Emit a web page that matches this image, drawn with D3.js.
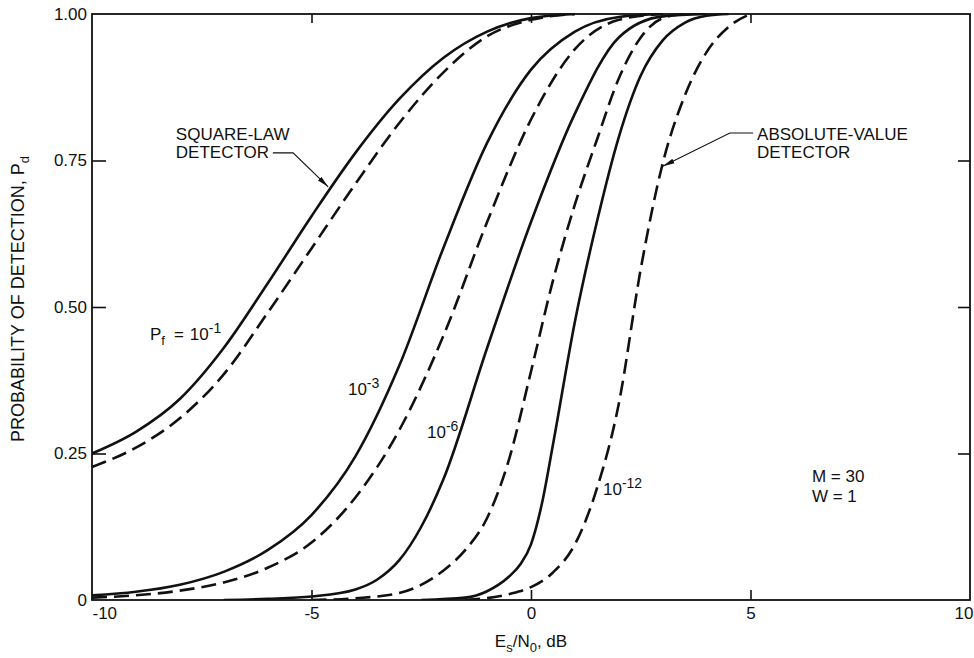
<!DOCTYPE html>
<html>
<head>
<meta charset="utf-8">
<script src="https://cdn.jsdelivr.net/npm/d3@7"></script>
<style>
  body { margin: 0; background: #fff; }
  svg text { font-family: "Liberation Sans", Arial, sans-serif; fill: #111; }
</style>
</head>
<body>
<svg id="chart" width="974" height="658"></svg>
<script>
// Data: E_s/N_0 (dB) vs probability of detection
// square-law (solid) and absolute-value (dashed), for 4 false alarm rates
const pfLabels = ["10^-1", "10^-3", "10^-6", "10^-12"];

const squareLaw_1 = [[-10, 0.25], [-9, 0.287], [-8, 0.343], [-7, 0.43], [-6, 0.54], [-5, 0.655], [-4, 0.763],
  [-3, 0.855], [-2, 0.925], [-1, 0.97], [0, 0.993], [1, 1.0]];
const absValue_1 = [[-10, 0.227], [-9, 0.26], [-8, 0.31], [-7, 0.385], [-6, 0.49], [-5, 0.6], [-4, 0.71],
  [-3, 0.814], [-2, 0.9], [-1, 0.962], [0, 0.99], [1, 1.0]];

const squareLaw_3 = [[-10, 0.008], [-9, 0.014], [-8, 0.026], [-7, 0.048], [-6, 0.085], [-5, 0.145], [-4, 0.245],
  [-3, 0.4], [-2, 0.6], [-1, 0.78], [0, 0.905], [1, 0.97], [2, 0.995], [3, 1.0]];
const absValue_3 = [[-10, 0.004], [-9, 0.008], [-8, 0.016], [-7, 0.03], [-6, 0.055], [-5, 0.098], [-4, 0.175],
  [-3, 0.29], [-2, 0.45], [-1, 0.645], [0, 0.82], [1, 0.94], [2, 0.99], [3, 1.0]];

const squareLaw_6 = [[-7, 0], [-6, 0.002], [-5, 0.006], [-4, 0.018], [-3.5, 0.035], [-3, 0.068], [-2.5, 0.125],
  [-2, 0.205], [-1, 0.43], [0, 0.645], [1, 0.83], [2, 0.96], [3, 0.996], [4, 1.0]];
const absValue_6 = [[-5, 0], [-4, 0.003], [-3, 0.012], [-2, 0.05], [-1.5, 0.085], [-1, 0.14], [-0.5, 0.24],
  [0, 0.39], [0.5, 0.545], [1, 0.675], [1.5, 0.785], [2, 0.89], [2.5, 0.96], [3, 0.993], [3.5, 1.0]];

const squareLaw_12 = [[-2.5, 0], [-1.5, 0.004], [-1, 0.015], [-0.5, 0.04], [-0.25, 0.06], [0, 0.095], [0.25, 0.165],
  [0.5, 0.265], [1, 0.475], [1.5, 0.645], [2, 0.79], [2.5, 0.895], [3, 0.955], [3.5, 0.985], [4, 0.997], [4.5, 1.0]];
const absValue_12 = [[-1.5, 0], [-0.5, 0.01], [0, 0.022], [0.5, 0.047], [1, 0.095], [1.5, 0.19], [2, 0.335],
  [2.5, 0.565], [3, 0.745], [3.5, 0.86], [4, 0.935], [4.5, 0.978], [5, 1.0]];

const xTicks = [-10, -5, 0, 5, 10];
const yTicks = [0, 0.25, 0.5, 0.75, 1.0];

(function () {
  const svg = d3.select("#chart");
  const left = 92, right = 970, top = 14, bottom = 600;

  const x = d3.scaleLinear().domain([-10, 10]).range([left, right]);
  const y = d3.scaleLinear().domain([0, 1]).range([bottom, top]);

  // Frame
  svg.append("rect")
    .attr("x", left).attr("y", top)
    .attr("width", right - left).attr("height", bottom - top)
    .attr("fill", "none").attr("stroke", "#111").attr("stroke-width", 1.8);

  // Left axis with labels
  const yAxis = svg.append("g")
    .attr("transform", `translate(${left},0)`)
    .call(d3.axisLeft(y).tickValues(yTicks).tickSizeInner(-14).tickSizeOuter(0).tickPadding(5)
      .tickFormat(d => d === 0 ? "0" : d3.format(".2f")(d)));
  // Bottom axis with labels
  const xAxis = svg.append("g")
    .attr("transform", `translate(0,${bottom})`)
    .call(d3.axisBottom(x).tickValues(xTicks).tickSizeInner(-10).tickSizeOuter(0).tickPadding(7)
      .tickFormat(d => String(d)));
  // Top and right ticks, no labels
  const topAxis = svg.append("g")
    .attr("transform", `translate(0,${top})`)
    .call(d3.axisTop(x).tickValues([-5, 0, 5]).tickSizeInner(-9).tickSizeOuter(0).tickFormat(""));
  const rightAxis = svg.append("g")
    .attr("transform", `translate(${right},0)`)
    .call(d3.axisRight(y).tickValues([0.25, 0.5, 0.75]).tickSizeInner(-12).tickSizeOuter(0).tickFormat(""));

  [yAxis, xAxis, topAxis, rightAxis].forEach(g => {
    g.select(".domain").remove();
    g.selectAll("line").attr("stroke", "#111").attr("stroke-width", 1.6);
    g.selectAll("text").style("font-size", "17px").style("font-family", "'Liberation Sans', Arial, sans-serif")
      .attr("fill", "#111");
  });
  yAxis.selectAll(".tick").filter(d => d === 0 || d === 1).select("line").remove();
  xAxis.selectAll(".tick").filter(d => d === -10 || d === 10).select("line").remove();
  xAxis.selectAll(".tick").filter(d => d === -10).select("text").attr("text-anchor", "start");
  xAxis.selectAll(".tick").filter(d => d === 10).select("text").attr("text-anchor", "end").attr("dx", 3);

  // Axis titles
  const xTitle = svg.append("text")
    .attr("x", x(0)).attr("y", 647)
    .attr("text-anchor", "middle")
    .style("font-size", "17px");
  xTitle.append("tspan").text("E");
  xTitle.append("tspan").attr("dy", 5).style("font-size", "13px").text("s");
  xTitle.append("tspan").attr("dy", -5).text("/N");
  xTitle.append("tspan").attr("dy", 5).style("font-size", "13px").text("0");
  xTitle.append("tspan").attr("dy", -5).text(", dB");

  const yTitle = svg.append("text")
    .attr("transform", `translate(24,${y(0.5) - 8}) rotate(-90)`)
    .attr("text-anchor", "middle")
    .style("font-size", "18px");
  yTitle.append("tspan").text("PROBABILITY OF DETECTION, P");
  yTitle.append("tspan").attr("dy", 5).style("font-size", "13px").text("d");

  // Curves
  const line = d3.line()
    .x(d => x(d[0]))
    .y(d => y(d[1]))
    .curve(d3.curveMonotoneX);

  const series = [
    { values: squareLaw_1, dashed: false }, { values: absValue_1, dashed: true },
    { values: squareLaw_3, dashed: false }, { values: absValue_3, dashed: true },
    { values: squareLaw_6, dashed: false }, { values: absValue_6, dashed: true },
    { values: squareLaw_12, dashed: false }, { values: absValue_12, dashed: true }
  ];

  const defs = svg.append("defs");
  defs.append("clipPath").attr("id", "plot-clip")
    .append("rect").attr("x", left).attr("y", top - 1)
    .attr("width", right - left).attr("height", bottom - top + 1);

  svg.append("g").attr("clip-path", "url(#plot-clip)")
    .selectAll("path.curve")
    .data(series)
    .enter().append("path")
    .attr("class", "curve")
    .attr("d", d => line(d.values))
    .attr("fill", "none")
    .attr("stroke", "#111")
    .attr("stroke-width", 2.6)
    .attr("stroke-dasharray", d => d.dashed ? "15,7" : null);

  // Curve labels (P_f values)
  function powerLabel(dB, p, text, prefix) {
    const t = svg.append("text").attr("x", x(dB)).attr("y", y(p)).style("font-size", "17px");
    if (prefix) {
      t.append("tspan").text("P");
      t.append("tspan").attr("dy", 5).style("font-size", "13px").text("f");
      t.append("tspan").attr("dy", -5).attr("dx", 9).text("=");
    }
    const parts = text.split("^");
    t.append("tspan").attr("dx", prefix ? 6 : 0).text(parts[0]);
    t.append("tspan").attr("dy", -7).style("font-size", "14px").text(parts[1]);
  }
  powerLabel(-8.68, 0.444, pfLabels[0], true);
  powerLabel(-4.17, 0.35, pfLabels[1], false);
  powerLabel(-2.37, 0.276, pfLabels[2], false);
  powerLabel(1.64, 0.179, pfLabels[3], false);

  // Detector annotations with leader arrows
  const marker = defs.append("marker")
    .attr("id", "arrow").attr("viewBox", "0 0 12 6")
    .attr("refX", 12).attr("refY", 3)
    .attr("markerWidth", 12).attr("markerHeight", 6)
    .attr("markerUnits", "userSpaceOnUse")
    .attr("orient", "auto");
  marker.append("path").attr("d", "M0,0.5 L12,3 L0,5.5 Z").attr("fill", "#111");

  function annotation(dB, p, lines) {
    lines.forEach((s, i) => {
      svg.append("text").attr("x", x(dB)).attr("y", y(p) + i * 18)
        .style("font-size", "17px").text(s);
    });
  }
  annotation(-8.09, 0.785, ["SQUARE-LAW", "DETECTOR"]);
  annotation(5.15, 0.785, ["ABSOLUTE-VALUE", "DETECTOR"]);

  const leader = d3.line().x(d => x(d[0])).y(d => y(d[1]));
  svg.append("path")
    .attr("d", leader([[-5.88, 0.763], [-5.42, 0.763], [-4.62, 0.705]]))
    .attr("fill", "none").attr("stroke", "#111").attr("stroke-width", 1.1)
    .attr("marker-end", "url(#arrow)");
  svg.append("path")
    .attr("d", leader([[5.06, 0.797], [4.53, 0.797], [3.0, 0.74]]))
    .attr("fill", "none").attr("stroke", "#111").attr("stroke-width", 1.1)
    .attr("marker-end", "url(#arrow)");

  // Parameters
  svg.append("text").attr("x", x(6.4)).attr("y", y(0.201)).style("font-size", "17px").text("M = 30");
  svg.append("text").attr("x", x(6.4)).attr("y", y(0.167)).style("font-size", "17px").text("W = 1");
})();
</script>
</body>
</html>
